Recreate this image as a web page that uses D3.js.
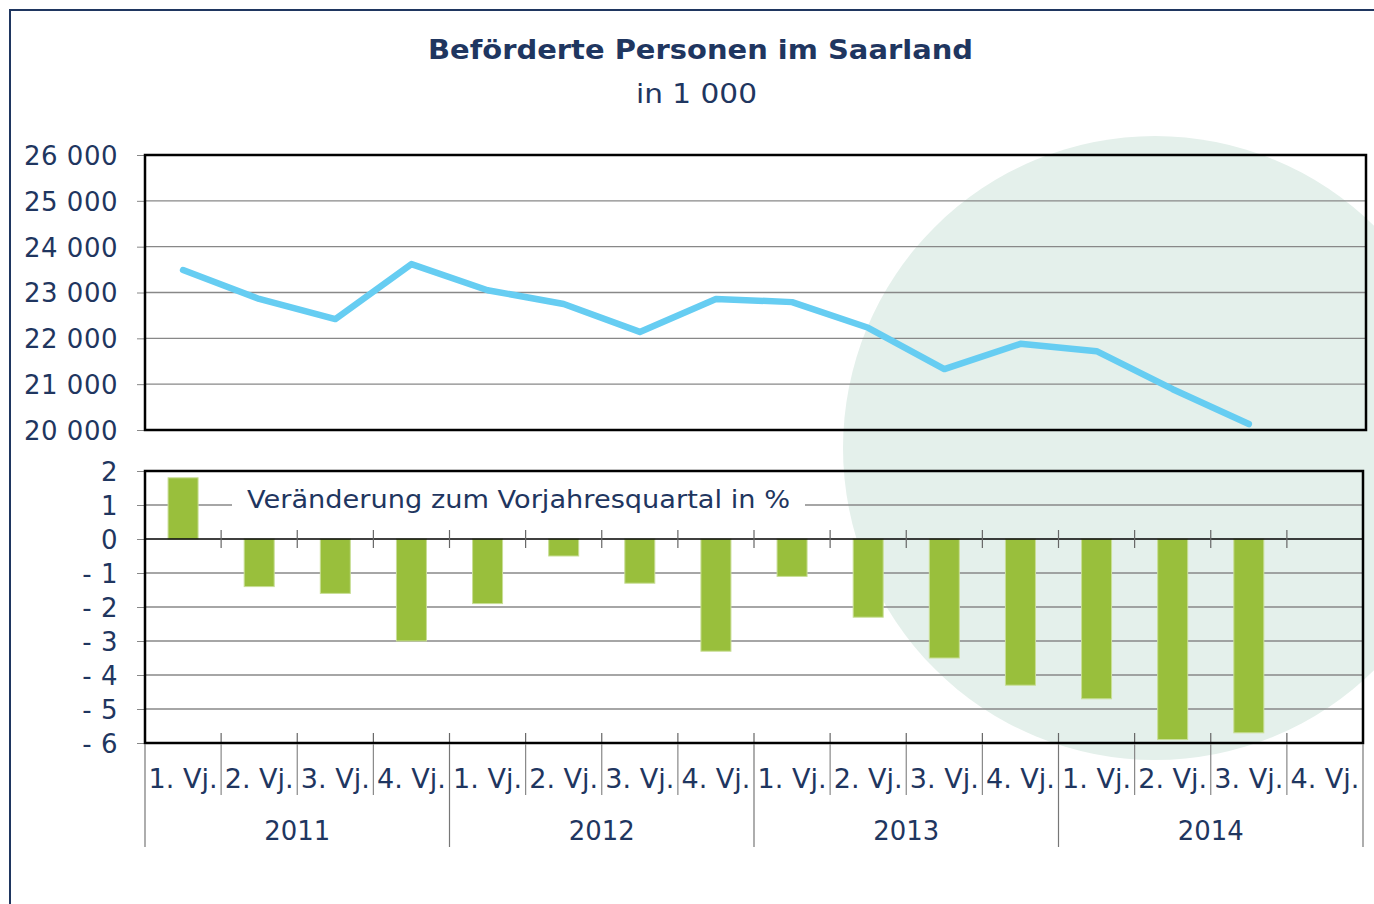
<!DOCTYPE html>
<html><head><meta charset="utf-8">
<script src="https://cdn.jsdelivr.net/npm/d3@7"></script>
<style>html,body{margin:0;padding:0;background:#fff;}svg{display:block;font-family:"DejaVu Sans",Verdana,sans-serif;}</style>
</head><body>
<svg id="c" width="1374" height="904"></svg>
<script>
const quarters = ["1. Vj.","2. Vj.","3. Vj.","4. Vj."];
const years = ["2011","2012","2013","2014"];
const passengers = [23490,22860,22420,23620,23050,22750,22140,22860,22790,22230,21330,21880,21720,20890,20130];
const change = [1.8,-1.4,-1.6,-3.0,-1.9,-0.5,-1.3,-3.3,-1.1,-2.3,-3.5,-4.3,-4.7,-5.9,-5.7];
const topTicks = [20000,21000,22000,23000,24000,25000,26000];
const botTicks = [2,1,0,-1,-2,-3,-4,-5,-6];

const navy = "#1f3660";
const svg = d3.select("#c");
const fmtThousand = v => { const s = String(Math.abs(v)); return s.length>3 ? s.slice(0,-3)+" "+s.slice(-3) : s; };
const fmtPct = v => v<0 ? "- "+Math.abs(v) : String(v);

// categories
const cats = [];
years.forEach(y => quarters.forEach(q => cats.push(y+"|"+q)));
const L = 145, R = 1363;
const x = d3.scaleBand().domain(cats).range([L,R]).paddingInner(0).paddingOuter(0);

// background circle
svg.append("circle").attr("cx",1155).attr("cy",448).attr("r",312).attr("fill","#e4f0eb");

// outer frame
svg.append("path").attr("d","M10,904 V10 H1374").attr("fill","none").attr("stroke",navy).attr("stroke-width",2);

// titles
svg.append("text").attr("x",428).attr("y",59).attr("font-weight","bold")
  .attr("font-size",27).attr("textLength",545).attr("lengthAdjust","spacingAndGlyphs").attr("fill",navy).text("Beförderte Personen im Saarland");
svg.append("text").attr("x",636).attr("y",103)
  .attr("font-size",27).attr("textLength",121).attr("lengthAdjust","spacingAndGlyphs").attr("fill",navy).text("in 1 000");

// TOP PLOT
const yT = d3.scaleLinear().domain([20000,26000]).range([430,155]);
const gT = svg.append("g");
gT.selectAll("line.grid").data(topTicks.filter(t=>t>20000 && t<26000)).join("line")
  .attr("x1",L).attr("x2",1366).attr("y1",d=>yT(d)).attr("y2",d=>yT(d))
  .attr("stroke","#888").attr("stroke-width",1.3);
const axT = d3.axisLeft(yT).tickValues(topTicks).tickFormat(fmtThousand).tickSize(8).tickPadding(19);
const gAxT = svg.append("g").attr("transform",`translate(${L},0)`).call(axT);
gAxT.select(".domain").remove();
gAxT.selectAll(".tick line").attr("stroke","#888");
gAxT.selectAll(".tick text").attr("font-size",26).attr("letter-spacing",0.5).attr("fill",navy).attr("font-family","DejaVu Sans, sans-serif").attr("dy","0.36em");
svg.append("rect").attr("x",L).attr("y",155).attr("width",1366-L).attr("height",275)
  .attr("fill","none").attr("stroke","#000").attr("stroke-width",2.5);

const line = d3.line().x((d,i)=>x(cats[i])+x.bandwidth()/2).y(d=>yT(d));
svg.append("path").datum(passengers).attr("d",line).attr("fill","none")
  .attr("stroke","#66cdf2").attr("stroke-width",6.5).attr("stroke-linecap","round").attr("stroke-linejoin","round");

// BOTTOM PLOT
const yB = d3.scaleLinear().domain([-6,2]).range([743,471]);
svg.selectAll("line.bgrid").data(botTicks.filter(t=>t!==0 && t>-6 && t<2)).join("line")
  .attr("x1",L).attr("x2",R).attr("y1",d=>yB(d)).attr("y2",d=>yB(d))
  .attr("stroke","#888").attr("stroke-width",1.3);
const axB = d3.axisLeft(yB).tickValues(botTicks).tickFormat(fmtPct).tickSize(8).tickPadding(19);
const gAxB = svg.append("g").attr("transform",`translate(${L},0)`).call(axB);
gAxB.select(".domain").remove();
gAxB.selectAll(".tick line").attr("stroke","#888");
gAxB.selectAll(".tick text").attr("font-size",26).attr("letter-spacing",0.5).attr("fill",navy).attr("font-family","DejaVu Sans, sans-serif").attr("dy","0.36em");

// legend label with white background
svg.append("rect").attr("x",232).attr("y",484).attr("width",573).attr("height",30).attr("fill","#fff");
svg.append("text").attr("x",247).attr("y",508).attr("font-size",25).attr("textLength",543).attr("lengthAdjust","spacingAndGlyphs").attr("fill",navy)
  .text("Veränderung zum Vorjahresquartal in %");

// bars
const bw = 30;
svg.selectAll("rect.bar").data(change).join("rect")
  .attr("x",(d,i)=>x(cats[i])+x.bandwidth()/2-bw/2)
  .attr("y",d=>yB(Math.max(0,d)))
  .attr("width",bw).attr("height",d=>Math.abs(yB(d)-yB(0)))
  .attr("fill","#99bf3c").attr("stroke","#c8de96").attr("stroke-width",1);

// zero line and ticks
svg.append("line").attr("x1",L).attr("x2",R).attr("y1",yB(0)).attr("y2",yB(0)).attr("stroke","#000").attr("stroke-width",1.5);
svg.selectAll("line.zt").data(cats.slice(1)).join("line")
  .attr("x1",d=>x(d)).attr("x2",d=>x(d)).attr("y1",yB(0)-9).attr("y2",yB(0)+9)
  .attr("stroke","#666").attr("stroke-width",1.2);
// inner ticks at bottom
svg.selectAll("line.bt").data(cats.slice(1)).join("line")
  .attr("x1",d=>x(d)).attr("x2",d=>x(d)).attr("y1",733).attr("y2",743)
  .attr("stroke","#666").attr("stroke-width",1.2);

svg.append("rect").attr("x",L).attr("y",471).attr("width",R-L).attr("height",272)
  .attr("fill","none").attr("stroke","#000").attr("stroke-width",2.5);

// category axis
const sepQ = cats.filter((d,i)=>i%4!==0);
svg.selectAll("line.sq").data(sepQ).join("line")
  .attr("x1",d=>x(d)).attr("x2",d=>x(d)).attr("y1",744).attr("y2",795)
  .attr("stroke","#888").attr("stroke-width",1.2);
const yearEdges = years.map(y=>x(y+"|"+quarters[0])).concat([R]);
svg.selectAll("line.sy").data(yearEdges).join("line")
  .attr("x1",d=>d).attr("x2",d=>d).attr("y1",744).attr("y2",847)
  .attr("stroke","#777").attr("stroke-width",1.2);
svg.selectAll("text.q").data(cats).join("text")
  .attr("x",d=>x(d)+x.bandwidth()/2-34.5).attr("y",788)
  .attr("font-size",26).attr("textLength",69).attr("lengthAdjust","spacingAndGlyphs").attr("fill",navy).text(d=>d.split("|")[1]);
svg.selectAll("text.yr").data(years).join("text")
  .attr("x",y=>x(y+"|"+quarters[0])+x.bandwidth()*2-33).attr("y",840)
  .attr("font-size",26).attr("textLength",66).attr("lengthAdjust","spacingAndGlyphs").attr("fill",navy).text(y=>y);
</script>
</body></html>
